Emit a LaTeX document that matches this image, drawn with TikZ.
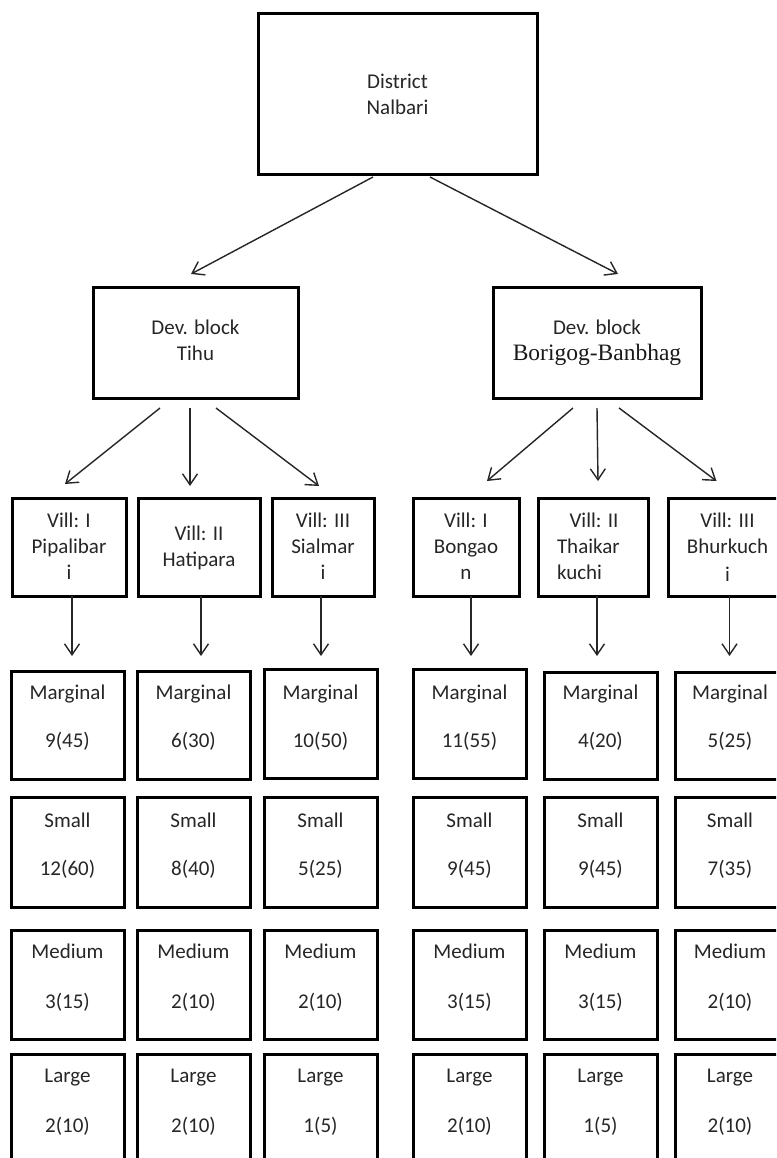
\documentclass[tikz,border=0pt]{standalone}
\usepackage{fontspec}
\setmainfont{Carlito}
\newfontfamily\serifA{Liberation Serif}
\usetikzlibrary{arrows.meta}
\tikzset{
  box/.style={draw=black, line width=3pt, rectangle, inner sep=0pt, outer sep=0pt, fill=white},
  lbl/.style={anchor=base, inner sep=0pt, outer sep=0pt, font=\fontsize{21}{26}\selectfont, text=black!85},
  lblw/.style={lbl, anchor=base west},
  serif/.style={lbl, font=\fontsize{23.5}{28}\selectfont\serifA, text=black!90},
  arr/.style={line width=1.4pt, draw=black!85, -{Straight Barb[length=11pt,width=15pt]}}
}
\newcommand\mybox[5]{\node[box, minimum width={(#4-#2)*1pt}, minimum height={(#5-#3)*1pt}] (#1) at ({(#2+#4)/2},{(#3+#5)/2}) {};}
\newcommand\catcol[9]{%
  \mybox{m#1}{#2}{#4}{#3}{#5}
  \mybox{s#1}{#2}{797}{#3}{907}
  \mybox{d#1}{#2}{930}{#3}{1039}
  \mybox{l#1}{#2}{1054}{#3}{1172}
  \node[lbl] (m#1a) at ({(#2+#3)/2},699) {Marginal};
  \node[lbl] (m#1b) at ({(#2+#3)/2},747) {#6};
  \node[lbl] (s#1a) at ({(#2+#3)/2},827) {Small};
  \node[lbl] (s#1b) at ({(#2+#3)/2},875) {#7};
  \node[lbl] (d#1a) at ({(#2+#3)/2},958) {Medium};
  \node[lbl] (d#1b) at ({(#2+#3)/2},1008) {#8};
  \node[lbl] (l#1a) at ({(#2+#3)/2},1082) {Large};
  \node[lbl] (l#1b) at ({(#2+#3)/2},1132) {#9};
}
\begin{document}
\begin{tikzpicture}[x=1pt, y=-1pt]
\useasboundingbox (0,0) rectangle (776,1158);
\clip (0,0) rectangle (776,1158);
\fill[white] (0,0) rectangle (776,1158);

% top level
\mybox{dist}{258}{14}{537}{175}
\node[lbl] (dista) at (397.5,89) {District};
\node[lbl] (distb) at (397.5,115) {Nalbari};

% development blocks
\mybox{tihu}{93}{287}{298}{398}
\node[lbl] (tihua) at (195.5,334) {Dev. block};
\node[lbl] (tihub) at (195.5,360) {Tihu};
\mybox{bori}{493}{287}{701}{398}
\node[lbl] (boria) at (597,334) {Dev. block};
\node[serif] (borib) at (597,360) {Borigog-Banbhag};

% villages
\mybox{v1}{12}{498}{126}{596}
\node[lbl] (v1a) at (69,527) {Vill: I};
\node[lbl] (v1b) at (69,553) {Pipalibar};
\node[lbl] (v1c) at (69,579) {i};
\mybox{v2}{138}{498}{260}{596}
\node[lbl] (v2a) at (199,540) {Vill: II};
\node[lbl] (v2b) at (199,566) {Hatipara};
\mybox{v3}{272}{498}{374}{596}
\node[lbl] (v3a) at (323,527) {Vill: III};
\node[lbl] (v3b) at (323,553) {Sialmar};
\node[lbl] (v3c) at (323,579) {i};
\mybox{v4}{413}{498}{519}{596}
\node[lbl] (v4a) at (466,527) {Vill: I};
\node[lbl] (v4b) at (466,553) {Bongao};
\node[lbl] (v4c) at (466,579) {n};
\mybox{v5}{538}{498}{648}{596}
\node[lbl] (v5a) at (594,527) {Vill: II};
\node[lblw] (v5b) at (557,553) {Thaikar};
\node[lblw] (v5c) at (557,579) {kuchi};
\mybox{v6}{668}{498}{787}{596}
\node[lbl] (v6a) at (727.5,527) {Vill: III};
\node[lbl] (v6b) at (727.5,553) {Bhurkuch};
\node[lbl] (v6c) at (727.5,581) {i};

% category columns
\catcol{1}{11}{124}{671}{779}{9(45)}{12(60)}{3(15)}{2(10)}
\catcol{2}{137}{250}{671}{779}{6(30)}{8(40)}{2(10)}{2(10)}
\catcol{3}{264}{377}{669}{778}{10(50)}{5(25)}{2(10)}{1(5)}
\catcol{4}{413}{526}{669}{778}{11(55)}{9(45)}{3(15)}{2(10)}
\catcol{5}{544}{657}{672}{779}{4(20)}{9(45)}{3(15)}{1(5)}
\catcol{6}{675}{785}{672}{779}{5(25)}{7(35)}{2(10)}{2(10)}

% arrows: district -> blocks
\draw[arr] ([xshift=-24.5pt,yshift=-2pt]dist.south) -- ([xshift=-4.5pt,yshift=13pt]tihu.north);
\draw[arr] ([xshift=32.5pt,yshift=-2pt]dist.south) -- ([xshift=21pt,yshift=13pt]bori.north);

% blocks -> villages
\draw[arr] ([xshift=-35.5pt,yshift=-10pt]tihu.south) -- ([xshift=-4pt,yshift=14pt]v1.north);
\draw[arr] ([xshift=-5.5pt,yshift=-10pt]tihu.south) -- ([xshift=-9pt,yshift=12pt]v2.north);
\draw[arr] ([xshift=20.5pt,yshift=-10pt]tihu.south) -- ([xshift=-4pt,yshift=12pt]v3.north);
\draw[arr] ([xshift=-24pt,yshift=-10pt]bori.south) -- ([xshift=21pt,yshift=17pt]v4.north);
\draw[arr] ([xshift=0pt,yshift=-10pt]bori.south) -- ([xshift=5pt,yshift=17pt]v5.north);
\draw[arr] ([xshift=22pt,yshift=-10pt]bori.south) -- ([xshift=-11pt,yshift=17pt]v6.north);

% villages -> categories
\draw[arr] ([xshift=3pt]v1.south) -- ([xshift=3pt,yshift=15pt]v1.south |- m1.north);
\draw[arr] ([xshift=2pt]v2.south) -- ([xshift=2pt,yshift=15pt]v2.south |- m2.north);
\draw[arr] ([xshift=-2pt]v3.south) -- ([xshift=-2pt,yshift=13pt]v3.south |- m3.north);
\draw[arr] ([xshift=5pt]v4.south) -- ([xshift=5pt,yshift=13pt]v4.south |- m4.north);
\draw[arr] ([xshift=4pt]v5.south) -- ([xshift=4pt,yshift=16pt]v5.south |- m5.north);
\draw[arr] ([xshift=2pt]v6.south) -- ([xshift=2pt,yshift=16pt]v6.south |- m6.north);
\end{tikzpicture}
\end{document}
